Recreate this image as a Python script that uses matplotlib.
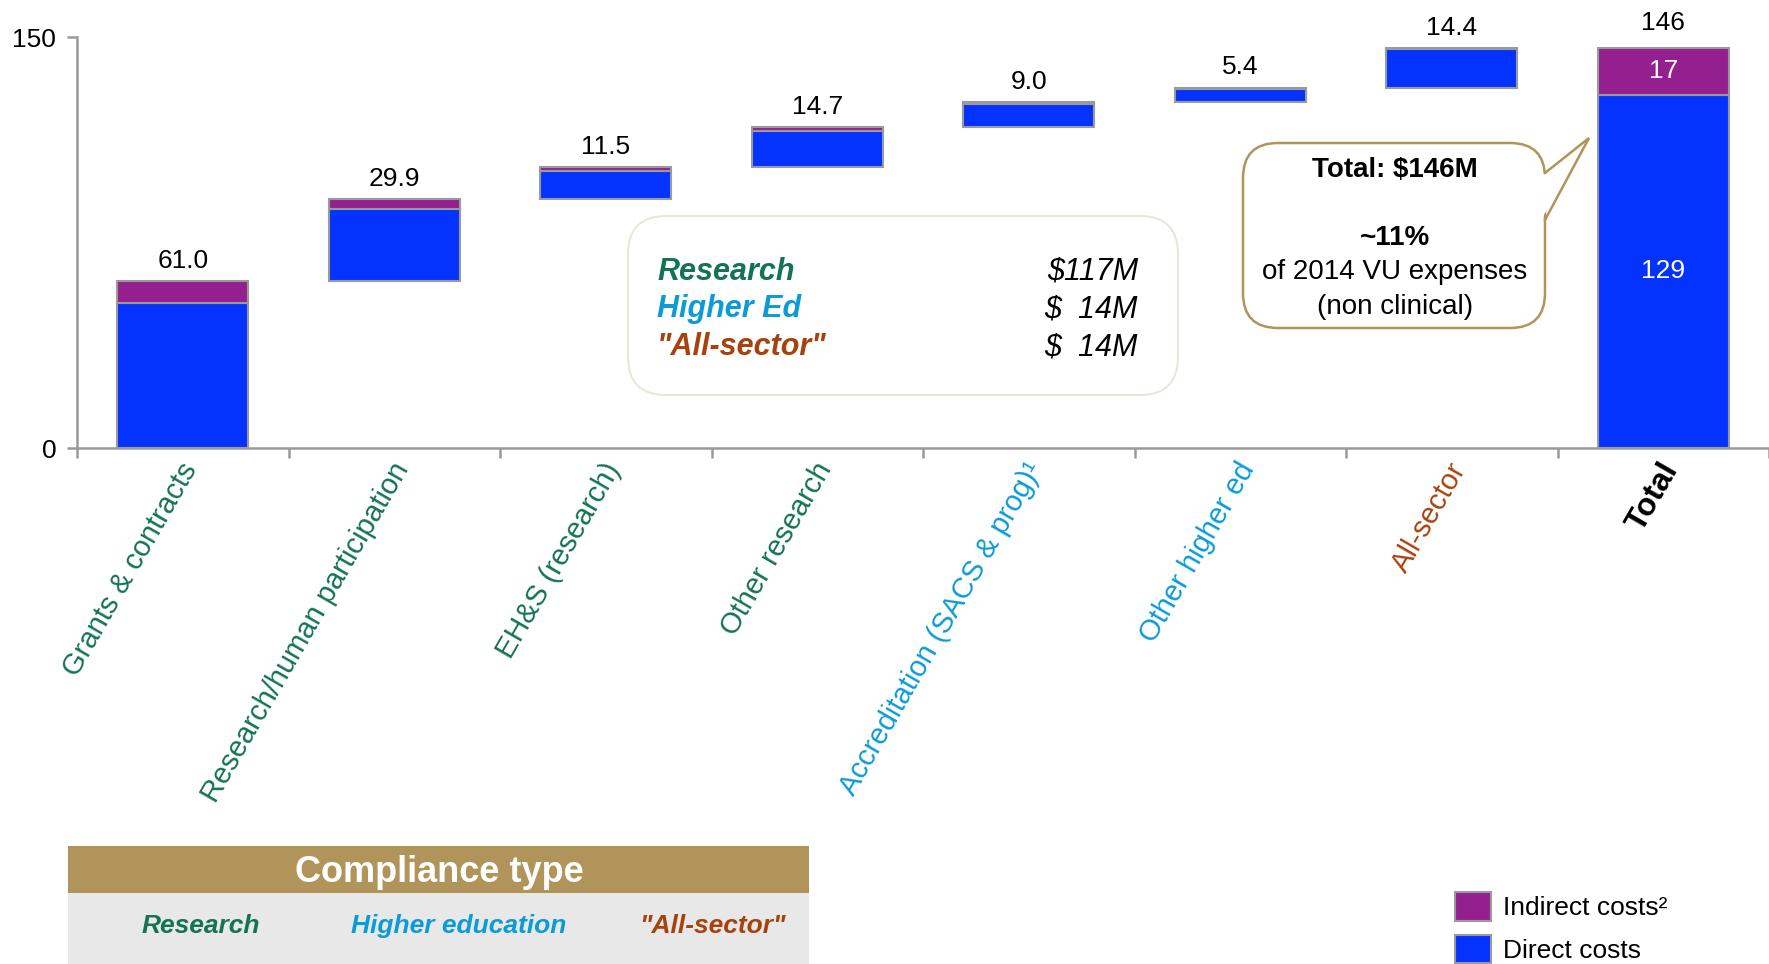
import matplotlib.pyplot as plt
from matplotlib.patches import FancyBboxPatch, Rectangle, Polygon
import numpy as np

plt.rcParams['font.family'] = ['Liberation Sans', 'DejaVu Sans']

# compliance cost by area ($M), waterfall steps then the total
categories = ['Grants & contracts', 'Research/human participation', 'EH&S (research)',
              'Other research', 'Accreditation (SACS & prog)\u00b9', 'Other higher ed',
              'All-sector', 'Total']
cat_type = ['research', 'research', 'research', 'research', 'higher', 'higher', 'all', 'total']
step_total = [61.0, 29.9, 11.5, 14.7, 9.0, 5.4, 14.4]
step_indirect = [8.0, 3.6, 1.2, 1.3, 0.4, 0.4, 0.4]
total_direct = 129
total_indirect = 17

summary_names = ['Research', 'Higher Ed', '"All-sector"']
summary_amounts = ['$117M', '$  14M', '$  14M']
summary_type = ['research', 'higher', 'all']

table_items = ['Research', 'Higher education', '"All-sector"']

blue = '#0433FF'
purple = '#93208E'
edge = '#9A9A9A'
tan = '#B09459'
colors = {'research': '#137354', 'higher': '#0B9BD6', 'all': '#A8420C', 'total': 'black'}

W, H = 1769, 964
fig = plt.figure(figsize=(W / 100, H / 100), dpi=100)
ax = fig.add_axes([77 / W, 1 - 448 / H, 1 - 77 / W, (448 - 37) / H])

x = np.arange(len(step_total))
bottoms = np.concatenate([[0], np.cumsum(step_total)[:-1]])
direct = np.array(step_total) - np.array(step_indirect)
bw = 0.62
ax.bar(x, direct, bw, bottom=bottoms, color=blue, edgecolor=edge, linewidth=1.5)
ax.bar(x, step_indirect, bw, bottom=bottoms + direct, color=purple, edgecolor=edge, linewidth=1.5)
ax.bar(7, total_direct, bw, color=blue, edgecolor=edge, linewidth=1.5)
ax.bar(7, total_indirect, bw, bottom=total_direct, color=purple, edgecolor=edge, linewidth=1.5)

for i, v in enumerate(step_total):
    ax.annotate('%.1f' % v, (i, bottoms[i] + v), xytext=(0, 6), textcoords='offset points',
                ha='center', va='bottom', fontsize=19, annotation_clip=False)
ax.annotate('%d' % (total_direct + total_indirect), (7, total_direct + total_indirect),
            xytext=(0, 9), textcoords='offset points', ha='center', va='bottom',
            fontsize=19, annotation_clip=False)
ax.text(7, total_direct + total_indirect / 2, str(total_indirect), color='white',
        ha='center', va='center', fontsize=19)
ax.text(7, total_direct / 2, str(total_direct), color='white', ha='center', va='center', fontsize=19)

# category labels, coloured by compliance type
for i, name in enumerate(categories):
    t = cat_type[i]
    ax.annotate(name, xy=(i - 0.02, 0), xycoords=('data', 'axes fraction'),
                xytext=(0, -7), textcoords='offset points', rotation=60,
                rotation_mode='anchor', ha='right', va='top',
                fontsize=23 if t == 'total' else 21,
                color=colors[t], fontweight='bold' if t == 'total' else 'normal')

ax.set_xlim(-0.5, 7.5)
ax.set_ylim(0, 150)
ax.set_xticks(np.arange(-0.5, 8, 1))
ax.set_xticklabels([])
ax.set_yticks([0, 150])
ax.tick_params(axis='x', length=7, width=1.8, color=edge)
ax.tick_params(axis='y', length=7, width=1.8, color=edge, labelsize=19, pad=8)
ax.spines['top'].set_visible(False)
ax.spines['right'].set_visible(False)
ax.spines['left'].set_color(edge)
ax.spines['bottom'].set_color(edge)
ax.spines['left'].set_linewidth(1.8)
ax.spines['bottom'].set_linewidth(1.8)

# overlay in pixel units for boxes, table and legend
cv = fig.add_axes([0, 0, 1, 1], zorder=5)
cv.set_xlim(0, W)
cv.set_ylim(H, 0)
cv.axis('off')

# summary box
cv.add_patch(FancyBboxPatch((628, 216), 550, 179, boxstyle='round,pad=0,rounding_size=38',
                            fc='white', ec='#E8E8D8', lw=1.5))
for k, (nm, amt) in enumerate(zip(summary_names, summary_amounts)):
    yb = 280 + k * 37.5
    cv.text(657, yb, nm, fontsize=22, fontweight='bold', style='italic',
            color=colors[summary_type[k]], va='baseline')
    cv.text(1138, yb, amt, fontsize=22, style='italic', ha='right', va='baseline')

# callout next to the total
cv.add_patch(FancyBboxPatch((1243, 143), 302, 185, boxstyle='round,pad=0,rounding_size=35',
                            fc='white', ec=tan, lw=1.8))
cv.add_patch(Polygon([(1542, 175), (1589, 138), (1542, 218)], closed=True, fc='white', ec='none'))
cv.plot([1545, 1589, 1545], [173, 138, 220], color=tan, lw=1.8, solid_joinstyle='miter')
cv.text(1395, 170, 'Total: $146M', fontsize=20, fontweight='bold', ha='center', va='center')
cv.text(1395, 238, '~11%', fontsize=20, fontweight='bold', ha='center', va='center')
cv.text(1395, 272, 'of 2014 VU expenses', fontsize=20, ha='center', va='center')
cv.text(1395, 307, '(non clinical)', fontsize=20, ha='center', va='center')

# compliance type key
cv.add_patch(Rectangle((68, 846), 741, 47, fc=tan, ec='none'))
cv.add_patch(Rectangle((68, 893), 741, 71, fc='#E8E8E8', ec='none'))
cv.text(439, 872, 'Compliance type', color='white', fontsize=26, fontweight='bold',
        ha='center', va='center')
for item, xc, t in zip(table_items, [201, 459, 712], ['research', 'higher', 'all']):
    cv.text(xc, 926, item, color=colors[t], fontsize=19, fontweight='bold', style='italic',
            ha='center', va='center')

# legend
cv.add_patch(Rectangle((1455, 892), 36, 29, fc=purple, ec=edge, lw=1.5))
cv.add_patch(Rectangle((1455, 935), 36, 28, fc=blue, ec=edge, lw=1.5))
cv.text(1503, 908, 'Indirect costs\u00b2', fontsize=19, va='center')
cv.text(1503, 951, 'Direct costs', fontsize=19, va='center')

fig.savefig('out.png', dpi=100, facecolor='white')
